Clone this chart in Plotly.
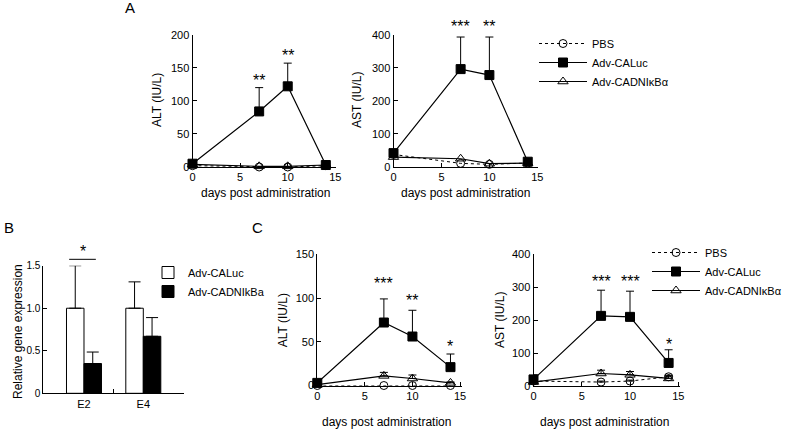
import plotly.graph_objects as go

W, H = 787, 430
FONT = "Liberation Sans, Arial, sans-serif"

# ---------------- data ----------------
days = [0, 7, 10, 14]
series_names = ["PBS", "Adv-CALuc", "Adv-CADNIκBα"]

# Panel A
a_alt_pbs = [2, 0, 0, 2]
a_alt_caluc = [5, 84, 122, 3]
a_alt_caluc_err = [2, 36, 35, 2]
a_alt_dn = [4, 1, 1, 3]

a_ast_pbs = [38, 11, 8, 12]
a_ast_caluc = [42, 296, 278, 16]
a_ast_caluc_err = [4, 97, 115, 4]
a_ast_dn = [30, 25, 10, 12]

# Panel C
c_alt_pbs = [0, 0, 0, 0]
c_alt_caluc = [3, 72, 56, 21]
c_alt_caluc_err = [1, 27, 30, 15]
c_alt_dn = [1, 11, 8, 3]
c_alt_dn_err = [1, 4, 4, 1]

c_ast_pbs = [15, 12, 15, 28]
c_ast_pbs_err = [3, 3, 3, 3]
c_ast_caluc = [20, 213, 210, 70]
c_ast_caluc_err = [14, 78, 78, 40]
c_ast_dn = [12, 38, 34, 23]
c_ast_dn_err = [3, 10, 10, 10]

# significance stars (text, day, value)
a_alt_stars = [("**", 7, 131), ("**", 10, 168)]
a_ast_stars = [("***", 7, 424), ("**", 10, 424)]
c_alt_stars = [("***", 7, 117), ("**", 10, 97), ("*", 14, 45)]
c_ast_stars = [("***", 7, 317), ("***", 10, 317), ("*", 14, 125)]

# Panel B
b_genes = ["E2", "E4"]
b_caluc = [1.0, 1.0]
b_caluc_err = [0.5, 0.31]
b_dn = [0.35, 0.67]
b_dn_err = [0.135, 0.22]
b_bracket_x = [-0.25, 0.2]
b_bracket_y = 1.575
b_star_y = 1.67

# ---------------- geometry (pixels) ----------------
# id: (x_left_px, x_right_px, xrange, y_top_px, y_bottom_px, yrange)
geo = {
    "1": (192.5, 336.3, [0, 15.1], 34.7, 167.0, [0, 200]),
    "2": (393.5, 538.3, [0, 15.1], 34.7, 167.0, [0, 400]),
    "3": (43.3, 184.0, [-0.686, 1.686], 265.7, 393.3, [0, 1.5]),
    "4": (317.3, 461.9, [0, 15.2], 254.3, 385.5, [0, 150]),
    "5": (533.5, 680.2, [0, 15.2], 254.3, 386.0, [0, 400]),
}


def px_x(p):
    return p / W


def px_y(p):
    return 1 - p / H


def data_to_paper(ax, x, y):
    x0, x1, xr, yt, yb, yr = geo[ax]
    xp = x0 + (x - xr[0]) / (xr[1] - xr[0]) * (x1 - x0)
    yp = yb - (y - yr[0]) / (yr[1] - yr[0]) * (yb - yt)
    return px_x(xp), px_y(yp)


fig = go.Figure()

marker_caluc = dict(symbol="square", size=9, color="black", line=dict(color="black", width=1))
marker_dn = dict(symbol="triangle-up-open", size=9, color="black", line=dict(color="black", width=1))
marker_pbs = dict(symbol="circle-open", size=8, color="black", line=dict(color="black", width=1))


def err(arr):
    return dict(type="data", array=arr, arrayminus=[0] * len(arr), symmetric=False,
                color="black", thickness=1, width=4)


def add_panel(xa, ya, pbs, caluc, caluc_err, dn, legend=None, pbs_err=None, dn_err=None):
    show = legend is not None
    lg = legend if legend else "legend"
    fig.add_trace(go.Scatter(x=days, y=pbs, name=series_names[0], mode="lines+markers",
                             line=dict(color="black", width=1, dash="dot"), marker=marker_pbs,
                             error_y=err(pbs_err) if pbs_err else None,
                             xaxis=xa, yaxis=ya, showlegend=show, legend=lg, cliponaxis=False))
    fig.add_trace(go.Scatter(x=days, y=caluc, name=series_names[1], mode="lines+markers",
                             line=dict(color="black", width=1.2), marker=marker_caluc,
                             error_y=err(caluc_err),
                             xaxis=xa, yaxis=ya, showlegend=show, legend=lg, cliponaxis=False))
    fig.add_trace(go.Scatter(x=days, y=dn, name=series_names[2], mode="lines+markers",
                             line=dict(color="black", width=1.2), marker=marker_dn,
                             error_y=err(dn_err) if dn_err else None,
                             xaxis=xa, yaxis=ya, showlegend=show, legend=lg, cliponaxis=False))


add_panel("x", "y", a_alt_pbs, a_alt_caluc, a_alt_caluc_err, a_alt_dn, legend="legend")
add_panel("x2", "y2", a_ast_pbs, a_ast_caluc, a_ast_caluc_err, a_ast_dn)
add_panel("x4", "y4", c_alt_pbs, c_alt_caluc, c_alt_caluc_err, c_alt_dn, legend="legend3", dn_err=c_alt_dn_err)
add_panel("x5", "y5", c_ast_pbs, c_ast_caluc, c_ast_caluc_err, c_ast_dn, pbs_err=c_ast_pbs_err, dn_err=c_ast_dn_err)

# Panel B bars
fig.add_trace(go.Bar(x=[0, 1], y=b_caluc, name="Adv-CALuc", marker=dict(color="white", line=dict(color="black", width=1)),
                     error_y=dict(type="data", array=b_caluc_err, arrayminus=[0, 0], symmetric=False, color="black", thickness=1, width=6),
                     xaxis="x3", yaxis="y3", legend="legend2", offsetgroup="a"))
fig.add_trace(go.Bar(x=[0, 1], y=b_dn, name="Adv-CADNIkBa", marker=dict(color="black", line=dict(color="black", width=1)),
                     error_y=dict(type="data", array=b_dn_err, arrayminus=[0, 0], symmetric=False, color="black", thickness=1, width=6),
                     xaxis="x3", yaxis="y3", legend="legend2", offsetgroup="b"))

tickfont = dict(family=FONT, size=11, color="black")


def axes_for(ax, ytickvals, yticktext=None):
    x0, x1, xr, yt, yb, yr = geo[ax]
    xa = dict(domain=[px_x(x0), px_x(x1)], range=xr, showline=True, linecolor="black",
              linewidth=1, ticks="inside", ticklen=4, tickcolor="black", tickvals=[0, 5, 10, 15],
              showgrid=False, zeroline=False, tickfont=tickfont, fixedrange=True)
    ya = dict(domain=[px_y(yb), px_y(yt)], range=yr, showline=True, linecolor="black",
              linewidth=1, ticks="inside", ticklen=4, tickcolor="black", tickvals=ytickvals,
              showgrid=False, zeroline=False, tickfont=tickfont, fixedrange=True)
    if yticktext:
        ya["ticktext"] = yticktext
    return xa, ya


xa1, ya1 = axes_for("1", [0, 50, 100, 150, 200])
xa2, ya2 = axes_for("2", [0, 100, 200, 300, 400])
xa4, ya4 = axes_for("4", [0, 50, 100, 150])
xa5, ya5 = axes_for("5", [0, 100, 200, 300, 400])
xa3, ya3 = axes_for("3", [0, 0.5, 1.0, 1.5], ["0", "0.5", "1.0", "1.5"])
ya3["tickfont"] = dict(family=FONT, size=10, color="black")
xa3.update(ticks="", tickvals=[0, 1], ticktext=b_genes,
           minor=dict(tickmode="array", tickvals=[0.5], ticks="inside", ticklen=4, tickcolor="black", showgrid=False))

for i, (xa, ya) in {"": (xa1, ya1), "2": (xa2, ya2), "3": (xa3, ya3), "4": (xa4, ya4), "5": (xa5, ya5)}.items():
    xa["anchor"] = "y" + i
    ya["anchor"] = "x" + i

annotations = []


def ann(x, y, text, size=12, angle=0, xanchor="center", yanchor="middle"):
    annotations.append(dict(x=x, y=y, xref="paper", yref="paper", text=text, showarrow=False, textangle=angle,
                            font=dict(family=FONT, size=size, color="black"), xanchor=xanchor, yanchor=yanchor))


# panel letters
ann(px_x(130), px_y(8), "A", size=15)
ann(px_x(9), px_y(228), "B", size=15)
ann(px_x(257), px_y(227), "C", size=15)

# axis titles
ann(px_x(265), px_y(193), "days post administration")
ann(px_x(465), px_y(193), "days post administration")
ann(px_x(386), px_y(421.7), "days post administration")
ann(px_x(604), px_y(421.7), "days post administration")
ann(px_x(157), px_y(100), "ALT (IU/L)", angle=-90)
ann(px_x(357), px_y(100), "AST (IU/L)", angle=-90)
ann(px_x(283.3), px_y(320), "ALT (IU/L)", angle=-90)
ann(px_x(500), px_y(320), "AST (IU/L)", angle=-90)
ann(px_x(18), px_y(332), "Relative gene expression", angle=-90)

for stars, ax in [(a_alt_stars, "1"), (a_ast_stars, "2"), (c_alt_stars, "4"), (c_ast_stars, "5")]:
    for t, sx, sy in stars:
        xp, yp = data_to_paper(ax, sx, sy)
        ann(xp, yp, t, size=16)

# B significance
sx, sy = data_to_paper("3", sum(b_bracket_x) / 2, b_star_y)
ann(sx, sy, "*", size=16)
bx0, by = data_to_paper("3", b_bracket_x[0], b_bracket_y)
bx1, _ = data_to_paper("3", b_bracket_x[1], b_bracket_y)
shapes = [dict(type="line", xref="paper", yref="paper", x0=bx0, x1=bx1, y0=by, y1=by,
               line=dict(color="black", width=1))]

legend_common = dict(font=dict(family=FONT, size=11, color="black"), bgcolor="rgba(0,0,0,0)",
                     borderwidth=0, tracegroupgap=0, xanchor="left", yanchor="top", itemsizing="trace")

fig.update_layout(
    width=W, height=H, margin=dict(l=0, r=0, t=0, b=0, autoexpand=False),
    paper_bgcolor="white", plot_bgcolor="white",
    font=dict(family=FONT, size=11, color="black"),
    xaxis=xa1, yaxis=ya1, xaxis2=xa2, yaxis2=ya2, xaxis3=xa3, yaxis3=ya3,
    xaxis4=xa4, yaxis4=ya4, xaxis5=xa5, yaxis5=ya5,
    barmode="group", bargap=0.41, bargroupgap=0,
    annotations=annotations, shapes=shapes,
    legend=dict(x=px_x(534), y=px_y(29), itemwidth=48, **legend_common),
    legend2=dict(x=px_x(148), y=px_y(258), itemwidth=30, **legend_common),
    legend3=dict(x=px_x(647), y=px_y(238), itemwidth=48, **legend_common),
)

fig.write_html("out.html", config={"displayModeBar": False},
               post_script="document.body.style.margin='0';document.body.style.padding='0';document.body.style.overflow='hidden';")
